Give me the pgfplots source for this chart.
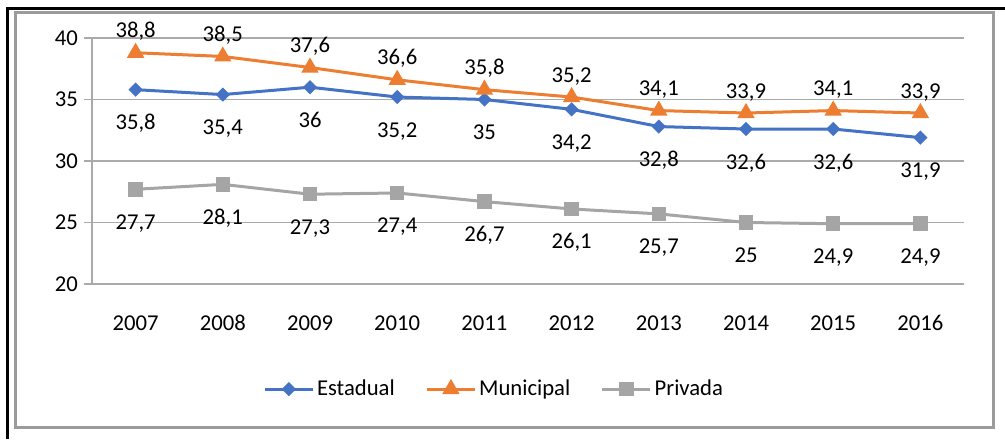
\documentclass[border=0pt]{standalone}
\usepackage{fontspec}
\setmainfont{Carlito}
\usepackage{pgfplots}
\pgfplotsset{compat=1.18}
\definecolor{estc}{RGB}{68,114,196}
\definecolor{munc}{RGB}{237,125,49}
\definecolor{privc}{RGB}{165,165,165}
\definecolor{gridc}{RGB}{170,170,170}
\definecolor{framec}{RGB}{155,155,155}
\newcommand\chartfont{\fontsize{17}{20}\selectfont}

\begin{document}
\begin{tikzpicture}
\useasboundingbox (0,0) rectangle (753.75pt,329.25pt);
% frame, in pixel units of the reference (y counted from the bottom)
\begin{scope}[x=0.75pt,y=0.75pt]
  \draw[framec,line width=1.9pt] (15.5,11.5) rectangle (993.5,426.5);
  \draw[black,line width=2.2pt] (7.5,0) -- (7.5,430.5) -- (1005,430.5);
\end{scope}
\begin{axis}[
  at={(69pt,116.25pt)},anchor=south west,
  scale only axis,width=654pt,height=184.5pt,
  xmin=-0.5,xmax=9.5,ymin=20,ymax=40,
  xtick={0,...,9},xticklabels={2007,2008,2009,2010,2011,2012,2013,2014,2015,2016},
  minor xtick={-0.5,0.5,...,9.5},
  ytick={20,25,30,35,40},
  xtick style={draw=none},
  minor tick style={gridc,line width=1pt},
  ytick style={gridc,line width=1pt},
  tick align=outside,major tick length=6pt,minor tick length=6pt,
  xticklabel style={yshift=-14pt},
  yticklabel style={xshift=-1pt},
  axis lines*=left,axis line style={gridc,line width=1pt},
  ymajorgrids=true,grid style={gridc,line width=1pt},
  font=\chartfont,
  /pgf/number format/assume math mode=true,
  /pgf/number format/use comma,
  clip=false,
  legend style={at={(0.4616,-0.427)},anchor=center,draw=none,fill=none,
    font=\chartfont,
    /tikz/every even column/.append style={column sep=21pt}},
  legend columns=3,
  legend image code/.code={\draw[mark repeat=2,mark phase=2] plot coordinates {(0pt,0pt) (18pt,0pt) (36pt,0pt)};},
  nodes near coords,
  every node near coord/.append style={font=\chartfont,text=black,anchor=base,inner sep=0pt},
]
  \addplot[estc,line width=2.25pt,mark=square*,mark size=2.65pt,mark options={rotate=45,fill=estc},
    every node near coord/.append style={yshift=-30pt}]
    coordinates {(0,35.8) (1,35.4) (2,36) (3,35.2) (4,35) (5,34.2) (6,32.8) (7,32.6) (8,32.6) (9,31.9)};
  \addplot[munc,line width=2.25pt,mark=triangle*,mark size=5.3pt,mark options={fill=munc},
    every node near coord/.append style={yshift=11.25pt}]
    coordinates {(0,38.8) (1,38.5) (2,37.6) (3,36.6) (4,35.8) (5,35.2) (6,34.1) (7,33.9) (8,34.1) (9,33.9)};
  \addplot[privc,line width=2.25pt,mark=square*,mark size=4.3pt,mark options={fill=privc},
    every node near coord/.append style={yshift=-30pt}]
    coordinates {(0,27.7) (1,28.1) (2,27.3) (3,27.4) (4,26.7) (5,26.1) (6,25.7) (7,25) (8,24.9) (9,24.9)};
  \legend{Estadual,Municipal,Privada}
\end{axis}
\end{tikzpicture}
\end{document}
